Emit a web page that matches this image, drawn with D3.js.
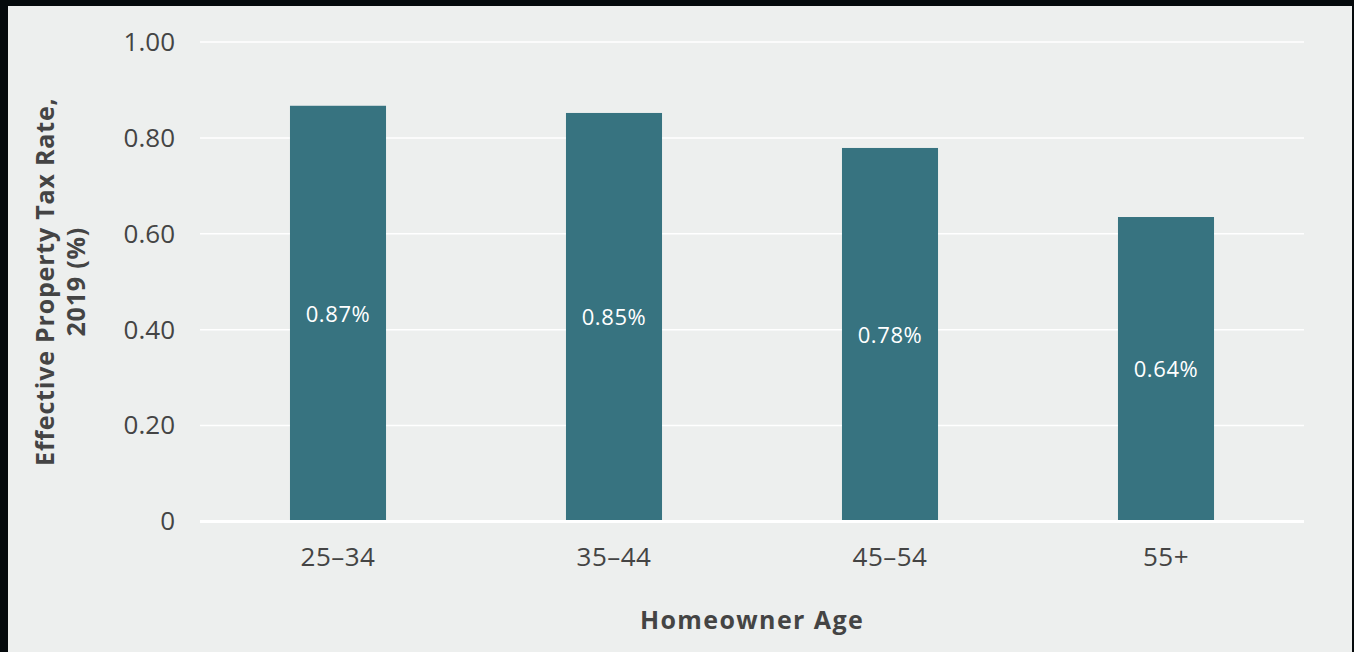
<!DOCTYPE html>
<html>
<head>
<meta charset="utf-8">
<script src="https://cdn.jsdelivr.net/npm/d3@7"></script>
<style>
  body { margin: 0; background: #050a0c; }
  svg { display: block; font-family: "Open Sans", "Noto Sans", sans-serif; }
</style>
</head>
<body>
<div id="chart"></div>
<script>
"use strict";

/*** Data */
const ageGroups = ["25\u201334", "35\u201344", "45\u201354", "55+"];
const taxRates = [0.867, 0.852, 0.779, 0.635];
const rateLabels = ["0.87%", "0.85%", "0.78%", "0.64%"];
const yTicks = [0, 0.2, 0.4, 0.6, 0.8, 1.0];

/*** Dimensions */
const w = 1354;
const h = 652;
const plot = { left: 200, right: 1304, top: 42, bottom: 521.5 };

const barColor = "#377380";
const textColor = "#444444";
const fontStack = "'Open Sans', 'Noto Sans', sans-serif";

const svg = d3.select("#chart")
    .append("svg")
    .attr("width", w)
    .attr("height", h);

// light panel inside the dark frame
svg.append("rect")
    .attr("x", 8)
    .attr("y", 6)
    .attr("width", w - 10)
    .attr("height", h - 6)
    .attr("fill", "#edefee");

/*** Scales */
const x = d3.scaleBand()
    .domain(ageGroups)
    .range([plot.left, plot.right])
    .paddingInner(0.652)
    .paddingOuter(0.326);

const y = d3.scaleLinear()
    .domain([0, 1])
    .range([plot.bottom, plot.top]);

/** Gridlines */
svg.append("g")
    .selectAll("line")
    .data(yTicks.filter(d => d > 0))
    .enter()
    .append("line")
    .attr("x1", plot.left)
    .attr("x2", plot.right)
    .attr("y1", d => y(d))
    .attr("y2", d => y(d))
    .attr("stroke", "#ffffff")
    .attr("stroke-width", 1.5);

/** Y axis labels */
const yAxis = d3.axisLeft(y)
    .tickValues(yTicks)
    .tickSize(0)
    .tickPadding(25)
    .tickFormat(d => d === 0 ? "0" : d3.format(".2f")(d));

svg.append("g")
    .attr("transform", "translate(" + plot.left + ",0)")
    .call(yAxis)
    .call(g => g.select(".domain").remove())
    .call(g => g.selectAll("text")
        .attr("fill", textColor)
        .style("font-size", "26px")
        .style("font-family", fontStack));

/** Bars */
svg.append("g")
    .selectAll("rect")
    .data(taxRates)
    .enter()
    .append("rect")
    .attr("x", (d, i) => x(ageGroups[i]))
    .attr("y", d => y(d))
    .attr("width", x.bandwidth())
    .attr("height", d => y(0) - y(d))
    .attr("fill", barColor);

/** Value labels, centred in each bar */
svg.append("g")
    .selectAll("text")
    .data(taxRates)
    .enter()
    .append("text")
    .attr("x", (d, i) => x(ageGroups[i]) + x.bandwidth() / 2)
    .attr("y", d => (y(d) + y(0)) / 2)
    .attr("dy", "0.36em")
    .attr("text-anchor", "middle")
    .attr("fill", "#ffffff")
    .style("font-size", "22px")
    .style("letter-spacing", "0.6px")
    .text((d, i) => rateLabels[i]);

/** Baseline */
svg.append("line")
    .attr("x1", plot.left)
    .attr("x2", plot.right)
    .attr("y1", y(0))
    .attr("y2", y(0))
    .attr("stroke", "#ffffff")
    .attr("stroke-width", 3);

/** X axis labels */
const xAxis = d3.axisBottom(x)
    .tickSize(0)
    .tickPadding(26);

svg.append("g")
    .attr("transform", "translate(0," + plot.bottom + ")")
    .call(xAxis)
    .call(g => g.select(".domain").remove())
    .call(g => g.selectAll("text")
        .attr("fill", textColor)
        .style("font-size", "26px")
        .style("letter-spacing", "0.5px")
        .style("font-family", fontStack));

/** Axis titles */
svg.append("text")
    .attr("x", (plot.left + plot.right) / 2)
    .attr("y", 629)
    .attr("text-anchor", "middle")
    .attr("fill", textColor)
    .style("font-size", "25px")
    .style("font-weight", "bold")
    .style("letter-spacing", "1.4px")
    .text("Homeowner Age");

const yTitle = svg.append("text")
    .attr("transform", "translate(54," + (plot.top + plot.bottom) / 2 + ") rotate(-90)")
    .attr("text-anchor", "middle")
    .attr("fill", textColor)
    .style("font-size", "25px")
    .style("font-weight", "bold")
    .style("letter-spacing", "0.8px");

yTitle.append("tspan")
    .attr("x", 0)
    .attr("dy", 0)
    .text("Effective Property Tax Rate,");

yTitle.append("tspan")
    .attr("x", 0)
    .attr("dy", 31)
    .text("2019 (%)");
</script>
</body>
</html>
